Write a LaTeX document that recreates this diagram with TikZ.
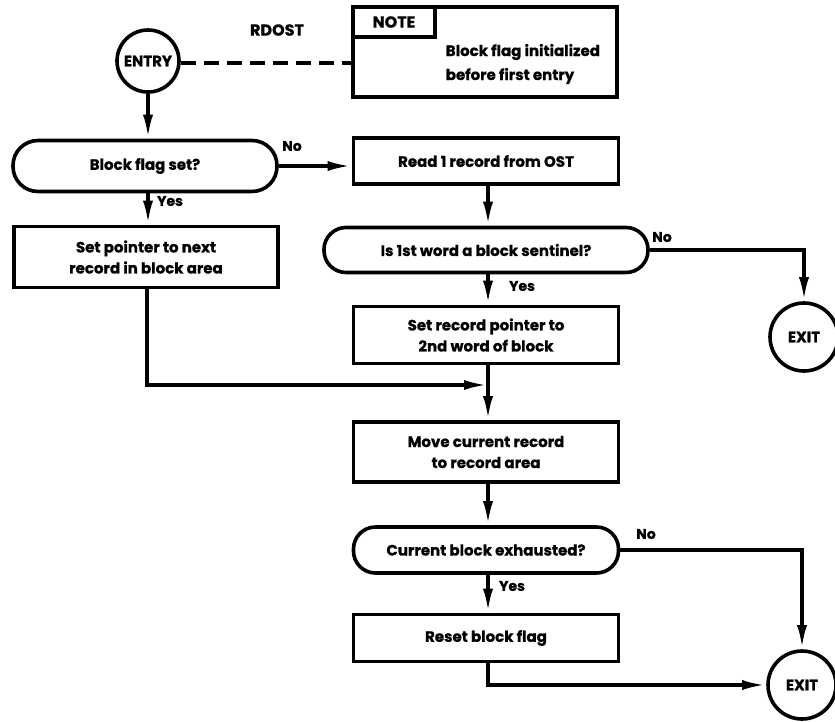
\documentclass[tikz,border=0pt]{standalone}
\usepackage{fontspec}
\setmainfont{Poppins}[BoldFeatures={FakeBold=0.8}]
\usetikzlibrary{arrows.meta}
\begin{document}
\begin{tikzpicture}[x=1pt,y=-1pt,
  line width=3.6pt,
  font=\bfseries\fontsize{15}{21}\selectfont,
  box/.style={draw,rectangle,minimum width=265pt,align=center,inner sep=0pt},
  stadium/.style={draw,rectangle,rounded corners=22pt,align=center,inner sep=0pt},
  term/.style={draw,circle,minimum size=68pt,inner sep=0pt,font=\bfseries\fontsize{15}{17}\selectfont},
  flow/.style={-{Latex[length=24pt,width=10pt]}},
  lbl/.style={font=\bfseries\fontsize{14}{16}\selectfont,inner sep=0pt}]
\useasboundingbox (0,0) rectangle (835,721);

% terminals
\node[term,minimum size=62pt] (entry) at (148,61) {ENTRY};
\node[term] (exit1) at (804,337) {EXIT};
\node[term] (exit2) at (802,685) {EXIT};

% annotation box with its tab
\node[draw,rectangle,minimum width=264pt,minimum height=90pt,inner sep=0pt] (note) at (485,52) {};
\node[draw,rectangle,minimum width=82pt,minimum height=30pt,inner sep=0pt,anchor=north west,
      font=\bfseries\fontsize{16}{18}\selectfont] (tab) at (note.north west) {NOTE};
\node[anchor=west,align=left,inner sep=0pt,font=\bfseries\fontsize{15}{24}\selectfont] (notetext) at (444,64) {Block flag initialized\\before first entry};
\node[lbl,font=\bfseries\fontsize{16}{18}\selectfont] (rdost) at (277,30) {RDOST};

% left column
\node[stadium,minimum width=264pt,minimum height=51pt,rounded corners=25pt] (flag) at (145,166) {Block flag set?};
\node[box,minimum width=264pt,minimum height=61pt] (setptr) at (146,257) {Set pointer to next\\record in block area};

% centre column
\node[box,minimum height=46pt] (read) at (486,161) {Read 1 record from OST};
\node[stadium,minimum width=324pt,minimum height=45pt] (sentinel) at (486,250) {Is 1st word a block sentinel?};
\node[box,minimum height=57pt] (setrec) at (486,335) {Set record pointer to\\2nd word of block};
\node[box,minimum height=60pt] (move) at (486,452) {Move current record\\to record area};
\node[stadium,minimum width=265pt,minimum height=46pt] (exhausted) at (486,550) {Current block exhausted?};
\node[box,minimum height=47pt] (reset) at (486,638) {Reset block flag};

\coordinate (merge) at (488,385);

% connectors
\draw[dashed,dash pattern=on 15pt off 8pt] (entry.east |- 0,63) -- (note.west |- 0,63);
\draw[flow] (entry.south) -- (entry.south |- flag.north);
\draw[flow] (flag.east) -- (flag.east -| read.west);
\draw[flow] (flag.south -| 148,0) -- (148,0 |- setptr.north);
\draw[flow] (read.south -| merge) -- (sentinel.north -| merge);
\draw[flow] (sentinel.east) -| (exit1.north);
\draw[flow] (sentinel.south -| merge) -- (setrec.north -| merge);
\draw (setrec.south -| merge) -- (merge);
\draw[flow] (setptr.south -| 147,0) |- (merge);
\draw[flow] (merge) -- (move.north -| merge);
\draw[flow] (move.south -| merge) -- (exhausted.north -| merge);
\draw[flow] (exhausted.east) -| (exit2.north);
\draw[flow] (exhausted.south -| merge) -- (reset.north -| merge);
\draw[flow] (reset.south -| merge) |- (exit2.west);

% branch labels
\node[lbl] (no1) at (292,146) {No};
\node[lbl] (yes1) at (170,201) {Yes};
\node[lbl] (no2) at (662,237) {No};
\node[lbl] (yes2) at (522,286) {Yes};
\node[lbl] (no3) at (646,534) {No};
\node[lbl] (yes3) at (512,586) {Yes};
\end{tikzpicture}
\end{document}
